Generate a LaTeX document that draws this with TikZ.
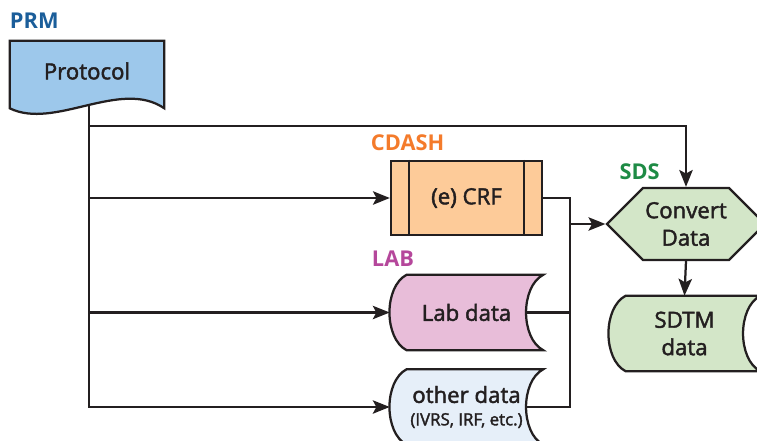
\documentclass[tikz,border=0pt]{standalone}
\usepackage{fontspec}
\setmainfont{Open Sans}[UprightFeatures={FakeBold=2}]
\usetikzlibrary{positioning,arrows.meta,shapes.symbols,backgrounds,calc}

\definecolor{ink}{HTML}{231F20}
\definecolor{prmblue}{HTML}{1B5E9A}
\definecolor{protofill}{HTML}{9DC8EB}
\definecolor{cdashorange}{HTML}{F47B2B}
\definecolor{crffill}{HTML}{FDCB99}
\definecolor{labpink}{HTML}{B5479B}
\definecolor{labfill}{HTML}{E8BDD9}
\definecolor{otherfill}{HTML}{E6EFF9}
\definecolor{sdsgreen}{HTML}{1E8B45}
\definecolor{sdsfill}{HTML}{D3E6C8}

% stored-data outline round a node: #1 node name, #2 fill colour
\newcommand{\storedshape}[2]{%
  \draw[draw=ink, line width=1.6pt, fill=#2]
    ($(#1.north west)+(17,0)$) -- (#1.north east)
    .. controls +(-23,12) and +(-23,-12) .. (#1.south east)
    -- ($(#1.south west)+(17,0)$)
    .. controls +(-23,-12) and +(-23,12) .. ($(#1.north west)+(17,0)$) -- cycle;}

\begin{document}
\begin{tikzpicture}[
    x=0.025cm, y=-0.025cm,
    font=\fontsize{15.8}{19.5}\selectfont,
    every node/.append style={text=ink},
    outline/.style={draw=ink, line width=1.6pt},
    arrow/.style={-{Stealth[length=12pt, width=9.5pt, inset=2.5pt]}, draw=ink, line width=1.6pt},
    tag/.style={font=\fontsize{15.5}{19}\selectfont\bfseries, inner sep=0pt},
    holder/.style={inner sep=0pt, align=center},
    crfbox/.style={rectangle, outline, fill=crffill, minimum width=3.775cm, minimum height=1.85cm},
    convertbox/.style={signal, signal to=west and east, signal pointer angle=90, outline, fill=sdsfill, align=center, minimum width=3.95cm, minimum height=1.8cm, inner sep=0pt},
]
    \clip (0,0) rectangle (757,441);

    % Boxes
    \node[holder, minimum width=3.85cm, minimum height=1.5cm] (protocol) at (87,71) {Protocol};
    \node[crfbox] (crf) at (466.5,198) {(e) CRF};
    \node[holder, minimum width=3.825cm, minimum height=1.875cm] (lab) at (466.5,312.5) {Lab data};
    \node[holder, minimum width=3.825cm, minimum height=1.875cm] (other) at (466.5,407) {other data\\[-3.5pt]{\fontsize{12}{13}\selectfont(IVRS, IRF, etc.)}};
    \node[convertbox] (convert) at (686,224) {Convert\\Data};
    \node[holder, minimum width=3.775cm, minimum height=1.875cm] (sdtm) at (684.5,333.5) {SDTM\\data};

    % Standard names
    \node[tag, text=prmblue, above right=0.3cm and 0cm of protocol.north west] (prm) {PRM};
    \node[tag, text=cdashorange, above right=0.22cm and -0.48cm of crf.north west] (cdash) {CDASH};
    \node[tag, text=labpink, above right=0.2cm and -0.45cm of lab.north west] (labtag) {LAB};
    \node[tag, text=sdsgreen, above left=0.18cm and 0.65cm of convert.north] (sds) {SDS};

    % Outlines behind the texts
    \begin{scope}[on background layer]
        \draw[outline, fill=protofill] ($(protocol.south west)+(0,7)$) -- (protocol.north west)
            -- (protocol.north east) -- ($(protocol.south east)+(0,7)$)
            .. controls +(-44,-30) and +(45,22) .. ($(protocol.south west)+(0,7)$) -- cycle;
        \storedshape{lab}{labfill}
        \storedshape{other}{otherfill}
        \storedshape{sdtm}{sdsfill}
    \end{scope}
    \draw[outline] ($(crf.north west)+(19,0)$) -- ($(crf.south west)+(19,0)$);
    \draw[outline] ($(crf.north east)+(-19,0)$) -- ($(crf.south east)+(-19,0)$);

    % Protocol feeds every source
    \coordinate (trunk) at ($(protocol.south)+(2,4)$);
    \coordinate (bend) at ($(convert.north)+(0,-61)$);
    \draw[arrow] (trunk) |- (bend) -- (convert.north);
    \draw[arrow] (trunk) |- (crf.west);
    \draw[arrow] (trunk) |- (lab.west);
    \draw[arrow] (trunk) |- (other.west);

    % Sources gathered into the conversion
    \coordinate (labout) at ($(lab.east)+(-17,0)$);
    \coordinate (otherout) at ($(other.east)+(-17,0)$);
    \coordinate (busend) at ($(otherout)+(44,0)$);
    \draw[outline] (crf.east) -| (busend) -- (otherout);
    \draw[outline] (labout) -- (labout -| busend);
    \coordinate (bus) at (busend |- convert.west);
    \draw[arrow] (bus) -- (convert.west);
    \draw[arrow] (convert.south) -- (sdtm.north);
\end{tikzpicture}
\end{document}
